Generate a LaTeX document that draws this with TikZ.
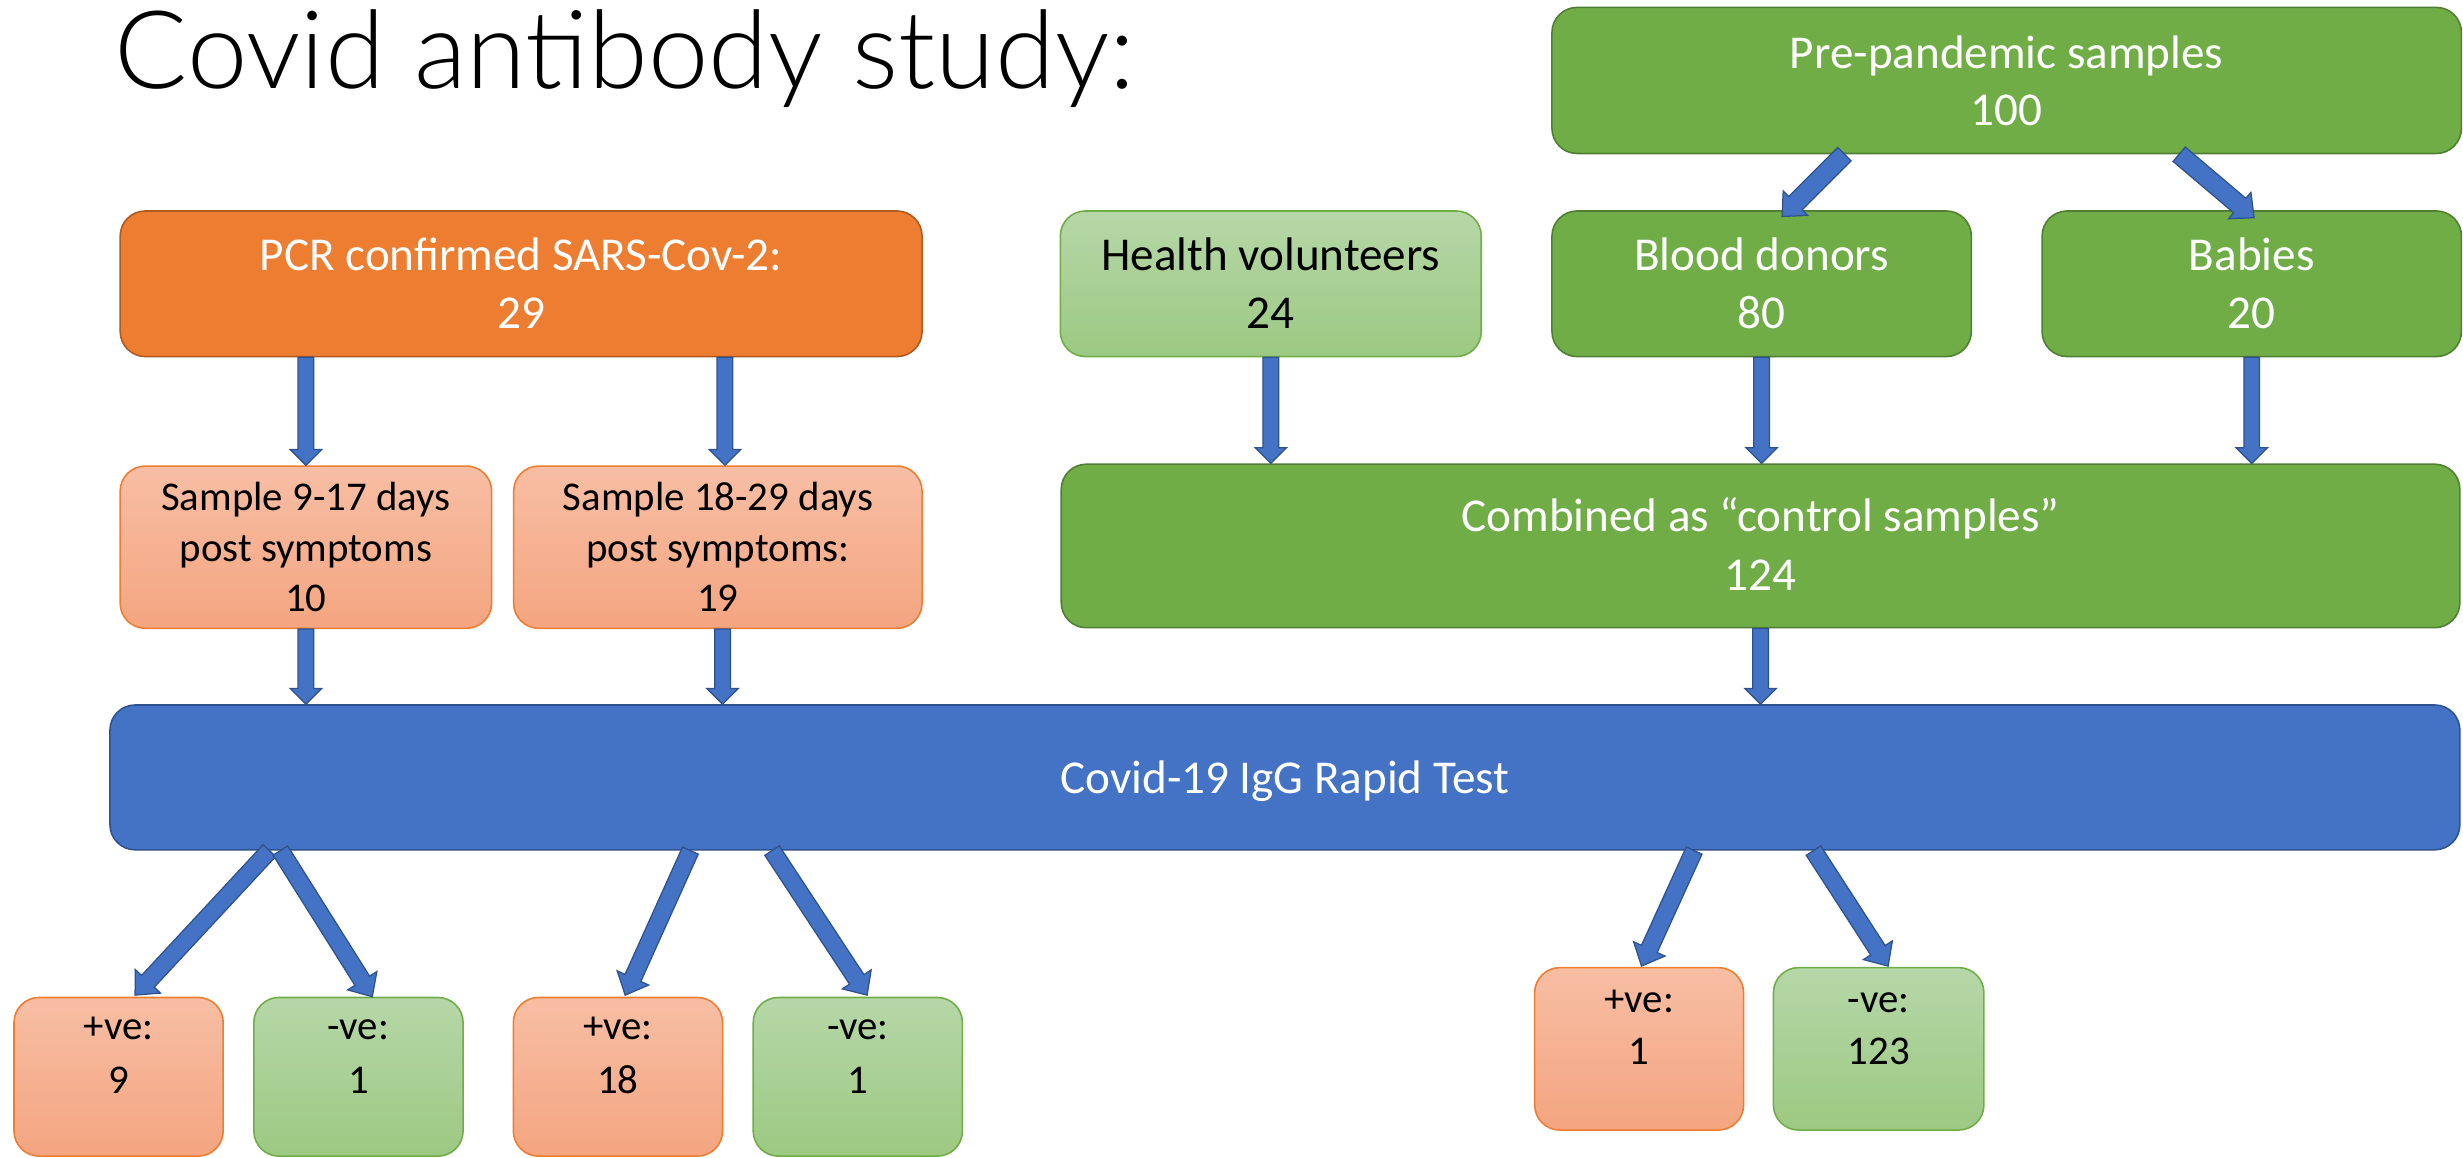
\documentclass[tikz,border=0pt]{standalone}
\usepackage{fontspec}
\setmainfont{Carlito}
\IfFontExistsTF{Lato Light}{\newfontfamily\titlefont{Lato Light}}{\newfontfamily\titlefont{Carlito}}
\usetikzlibrary{calc}
\definecolor{orgA}{HTML}{ED7D31}
\definecolor{orgB}{HTML}{AE5A21}
\definecolor{ltoT}{HTML}{F7BEA4}
\definecolor{ltoB}{HTML}{F4A580}
\definecolor{grnA}{HTML}{70AD47}
\definecolor{grnB}{HTML}{507E32}
\definecolor{ltgT}{HTML}{B6D7A8}
\definecolor{ltgB}{HTML}{9CC982}
\definecolor{bluA}{HTML}{4472C4}
\definecolor{bluB}{HTML}{2F528F}
\newcommand\bx[3]{\rule{0pt}{#1pt}#3\rule[-#2pt]{0pt}{#2pt}}
\newcommand\barrow[5]{%
  \coordinate (bah) at ($(#2)!#5!(#1)$);
  \filldraw[arrowbody] ($(#1)!#3!90:(#2)$) -- ($(bah)!#3!90:(#2)$) -- ($(bah)!#4!90:(#2)$) -- (#2) -- ($(bah)!#4!-90:(#2)$) -- ($(bah)!#3!-90:(#2)$) -- ($(#1)!#3!-90:(#2)$) -- cycle;
}
\tikzset{
  box/.style={rounded corners=16pt, inner sep=0pt, align=center, line width=1pt},
  orangebox/.style={box, fill=orgA, draw=orgB, text=white},
  lorangebox/.style={box, top color=ltoT, bottom color=ltoB, draw=orgA, text=black},
  greenbox/.style={box, fill=grnA, draw=grnB, text=white},
  lgreenbox/.style={box, top color=ltgT, bottom color=ltgB, draw=grnA, text=black},
  bluebox/.style={box, fill=bluA, draw=bluB, text=white},
  arrowbody/.style={fill=bluA, draw=bluB, line width=0.8pt, line join=miter},
  bigtxt/.style={font=\fontsize{30}{37.2}\selectfont},
  pretxt/.style={font=\fontsize{30}{36.7}\selectfont},
  comtxt/.style={font=\fontsize{30}{37.1}\selectfont},
  smtxt/.style={font=\fontsize{26}{32.2}\selectfont},
  restxt/.style={font=\fontsize{26}{34}\selectfont},
  restxtb/.style={font=\fontsize{26}{33}\selectfont},
}
\begin{document}
\begin{tikzpicture}[x=1pt,y=-1pt]
\useasboundingbox (0,0) rectangle (1568,737);
\node[anchor=base west, inner sep=0pt, text height=48pt, font=\titlefont\fontsize{69}{80}\selectfont] (title) at (73,56.2) {Covid antibody study:};

\node[greenbox, pretxt, minimum width=579pt, minimum height=93pt] (pre) at (1277.5,51.2) {\bx{38.8}{17.5}{Pre-pandemic samples\\100}};
\node[orangebox, bigtxt, minimum width=510.5pt, minimum height=92.7pt] (pcr) at (331.75,180.65) {\bx{37.6}{17.9}{PCR confirmed SARS-Cov-2:\\29}};
\node[lgreenbox, bigtxt, minimum width=268pt, minimum height=92.7pt] (health) at (809,180.65) {\bx{37.6}{17.9}{Health volunteers\\24}};
\node[greenbox, bigtxt, minimum width=267pt, minimum height=92.7pt] (blood) at (1121.5,180.65) {\bx{37.6}{17.9}{Blood donors\\80}};
\node[greenbox, bigtxt, minimum width=267pt, minimum height=92.7pt] (babies) at (1433.5,180.65) {\bx{37.6}{17.9}{Babies\\20}};

\node[lorangebox, smtxt, minimum width=236.5pt, minimum height=103.3pt] (s1) at (194.75,348.35) {\bx{28.3}{10.6}{Sample 9-17 days\\post symptoms\\10}};
\node[lorangebox, smtxt, minimum width=260pt, minimum height=103.3pt] (s2) at (457,348.35) {\bx{28.3}{10.6}{Sample 18-29 days\\post symptoms:\\19}};
\node[greenbox, comtxt, minimum width=890.4pt, minimum height=104.1pt] (comb) at (1120.8,347.55) {\bx{43}{24}{Combined as “control samples”\\124}};

\node[bluebox, bigtxt, minimum width=1496pt, minimum height=92.2pt] (cov) at (818,494.9) {\bx{56.2}{36}{Covid-19 IgG Rapid Test}};

\node[lorangebox, restxt, minimum width=133.2pt, minimum height=101pt] (p9) at (75.5,685.5) {\bx{27}{40}{+ve:\\9}};
\node[lgreenbox, restxt, minimum width=133.2pt, minimum height=101pt] (n1a) at (228.2,685.5) {\bx{27}{40}{-ve:\\1}};
\node[lorangebox, restxt, minimum width=133.2pt, minimum height=101pt] (p18) at (393.4,685.5) {\bx{27}{40}{+ve:\\18}};
\node[lgreenbox, restxt, minimum width=133.2pt, minimum height=101pt] (n1b) at (546.1,685.5) {\bx{27}{40}{-ve:\\1}};
\node[lorangebox, restxtb, minimum width=133pt, minimum height=103.4pt] (p1) at (1043.5,667.7) {\bx{28.7}{41.7}{+ve:\\1}};
\node[lgreenbox, restxtb, minimum width=134pt, minimum height=103.4pt] (n123) at (1196,667.7) {\bx{28.7}{41.7}{-ve:\\123}};

% connector end points
\coordinate (a1s) at ($(pre.south west)+(186.7,0)$);
\coordinate (a1t) at ($(blood.north)+(13,4)$);
\coordinate (a2s) at ($(pre.south west)+(399.8,0)$);
\coordinate (a2t) at ($(babies.north)+(1.5,4.8)$);
\coordinate (v1s) at (pcr.south -| s1.north);
\coordinate (v2t) at ($(s2.north)+(4.5,0)$);
\coordinate (v2s) at (pcr.south -| v2t);
\coordinate (v3t) at (s1.south |- cov.north);
\coordinate (v4s) at ($(s2.south)+(3,0)$);
\coordinate (v4t) at (v4s |- cov.north);
\coordinate (v5t) at (health.south |- comb.north);
\coordinate (v6t) at (blood.south |- comb.north);
\coordinate (v7t) at (babies.south |- comb.north);
\coordinate (v8t) at (comb.south |- cov.north);
\coordinate (b1s) at ($(cov.south west)+(102,0)$);
\coordinate (b1t) at ($(p9.north)+(10.5,-1)$);
\coordinate (b2s) at ($(cov.south west)+(109,0)$);
\coordinate (b2t) at ($(n1a.north)+(8.8,0)$);
\coordinate (b3s) at ($(cov.south west)+(370,0)$);
\coordinate (b3t) at ($(p18.north)+(4.6,-1)$);
\coordinate (b4s) at ($(cov.south west)+(422,0)$);
\coordinate (b4t) at ($(n1b.north)+(5.9,-1)$);
\coordinate (b5s) at ($(cov.south west)+(1009,0)$);
\coordinate (b5t) at ($(p1.north)+(1.5,-0.5)$);
\coordinate (b6s) at ($(cov.south west)+(1085,0)$);
\coordinate (b6t) at ($(n123.north)+(6,-0.5)$);

% arrows
\barrow{a1s}{a1t}{6pt}{11pt}{12pt}
\barrow{a2s}{a2t}{6pt}{11pt}{12pt}
\barrow{v1s}{s1.north}{5pt}{10pt}{10pt}
\barrow{v2s}{v2t}{5pt}{10pt}{10pt}
\barrow{s1.south}{v3t}{5pt}{10pt}{10pt}
\barrow{v4s}{v4t}{5pt}{10pt}{10pt}
\barrow{health.south}{v5t}{5pt}{10pt}{10pt}
\barrow{blood.south}{v6t}{5pt}{10pt}{10pt}
\barrow{babies.south}{v7t}{5pt}{10pt}{10pt}
\barrow{comb.south}{v8t}{5pt}{10pt}{10pt}
\barrow{b1s}{b1t}{5.5pt}{11pt}{12pt}
\barrow{b2s}{b2t}{5.5pt}{11pt}{12pt}
\barrow{b3s}{b3t}{5.5pt}{11pt}{12pt}
\barrow{b4s}{b4t}{5.5pt}{11pt}{12pt}
\barrow{b5s}{b5t}{5.5pt}{11pt}{12pt}
\barrow{b6s}{b6t}{5.5pt}{11pt}{12pt}
\end{tikzpicture}
\end{document}
